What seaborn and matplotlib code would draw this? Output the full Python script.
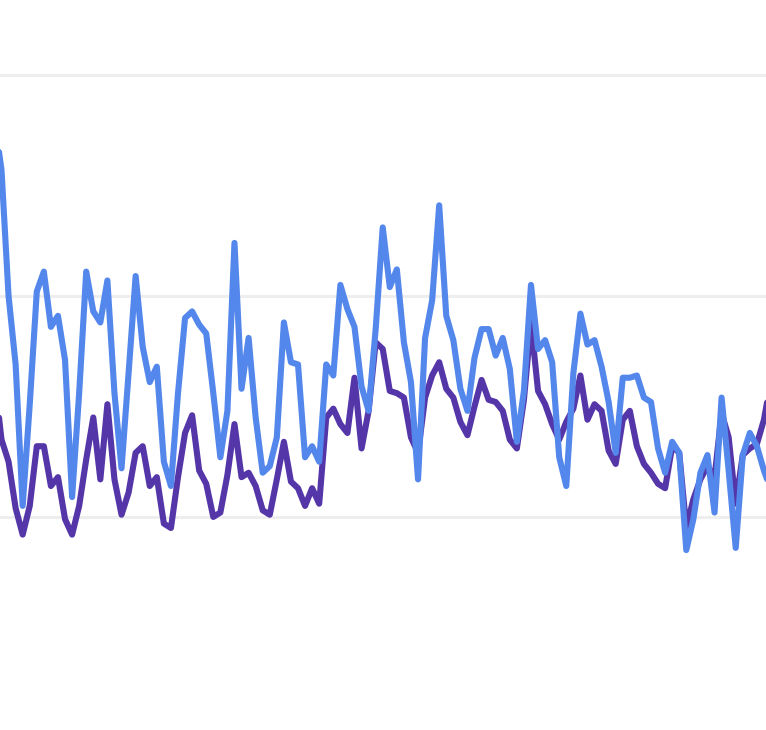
import numpy as np
import pandas as pd
import matplotlib
matplotlib.use("Agg")
import matplotlib.pyplot as plt
import seaborn as sns

# period index (first and last points lie just outside the visible window)
periods = list(range(-1, 110))

series_a = [  # blue
    280, 257, 200, 169, 105, 151, 202, 211, 186, 191,
    171, 109, 156, 211, 193, 188, 207, 156, 122, 165,
    209, 177, 161, 168, 125, 114, 156, 190, 193, 187,
    183, 156, 127, 148, 224, 158, 181, 145, 120, 123,
    136, 188, 170, 169, 127, 132, 125, 169, 164, 205,
    194, 186, 159, 148, 185, 231, 204, 212, 179, 161,
    117, 181, 198, 241, 191, 180, 158, 148, 172, 185,
    185, 173, 181, 167, 134, 157, 205, 176, 180, 170,
    127, 114, 165, 192, 178, 180, 168, 152, 129, 163,
    163, 164, 154, 152, 131, 120, 134, 129, 85, 99,
    120, 128, 102, 154, 121, 86, 128, 138, 132, 121,
    112,
]

series_b = [  # purple
    163, 135, 125, 104, 92, 105, 132, 132, 114, 118,
    99, 92, 105, 126, 145, 117, 151, 117, 101, 111,
    129, 132, 114, 118, 97, 95, 118, 138, 146, 121,
    115, 100, 102, 119, 142, 118, 120, 114, 103, 101,
    117, 134, 116, 113, 105, 113, 106, 145, 149, 142,
    138, 163, 131, 148, 179, 176, 157, 156, 154, 136,
    129, 154, 164, 170, 158, 154, 143, 137, 150, 162,
    153, 152, 148, 135, 131, 153, 188, 157, 151, 142,
    135, 143, 149, 164, 144, 151, 148, 130, 124, 144,
    148, 132, 124, 120, 115, 113, 132, 129, 95, 108,
    117, 123, 118, 147, 136, 106, 128, 131, 133, 144,
    162,
]

series_names = ["Series B", "Series A"]
grid_values = [100, 200, 300]

df = pd.concat([
    pd.DataFrame({"period": periods, "value": series_b, "series": series_names[0]}),
    pd.DataFrame({"period": periods, "value": series_a, "series": series_names[1]}),
])

palette = {"Series B": "#5536a9", "Series A": "#5487ec"}

sns.set_style("white")
fig = plt.figure(figsize=(7.66, 7.30), dpi=100)
ax = fig.add_axes([0, 0, 1, 1])

sns.lineplot(data=df, x="period", y="value", hue="series",
             hue_order=series_names, palette=palette,
             linewidth=4.4, legend=False, ax=ax, zorder=3,
             solid_joinstyle="round", solid_capstyle="round")

ax.set_xlim(-0.2125, 108.29)
ax.set_ylim(3.6, 333.9)
ax.set_yticks(grid_values)
ax.set_xticks([])
ax.grid(axis="y", color="#eeeeee", linewidth=2.2, zorder=0)
ax.grid(axis="x", visible=False)
ax.tick_params(left=False, bottom=False, labelleft=False, labelbottom=False)
ax.set_xlabel("")
ax.set_ylabel("")
for s in ax.spines.values():
    s.set_visible(False)

fig.savefig("out.png", dpi=100, facecolor="white")
